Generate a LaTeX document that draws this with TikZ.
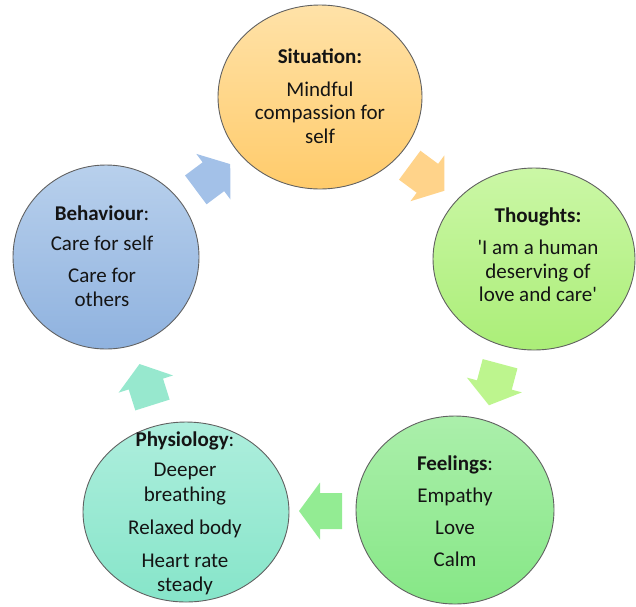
\documentclass[tikz,border=0pt]{standalone}
\usepackage{fontspec}
\setmainfont{Carlito}[Ligatures=TeXOff]
\usetikzlibrary{shapes.geometric,calc}
\definecolor{sitT}{HTML}{FFE2A8}
\definecolor{sitB}{HTML}{FFCB6B}
\definecolor{thoT}{HTML}{CBF7A6}
\definecolor{thoB}{HTML}{ABEE78}
\definecolor{feeT}{HTML}{ABEFAB}
\definecolor{feeB}{HTML}{86E786}
\definecolor{phyT}{HTML}{AEEEDD}
\definecolor{phyB}{HTML}{86E5C9}
\definecolor{behT}{HTML}{B8D0EC}
\definecolor{behB}{HTML}{8FB2DF}
\definecolor{arrBlue}{HTML}{A3C1E8}
\definecolor{arrOrange}{HTML}{FFD38A}
\definecolor{arrGreen}{HTML}{BDF58E}
\definecolor{arrLGreen}{HTML}{93EC93}
\definecolor{arrMint}{HTML}{97E8CE}
\tikzset{
  circ/.style={ellipse, draw=black!62, line width=0.9pt, inner sep=0pt},
  txt/.style={align=center, font=\fontsize{21}{23.5}\selectfont, inner sep=0pt, text=black!92},
  blockarr/.pic={\path[pic actions] (-21.5,-18) -- (0.5,-18) -- (0.5,-28.5) -- (21.5,0) -- (0.5,28.5) -- (0.5,18) -- (-21.5,18) -- cycle;}
}
\begin{document}
\begin{tikzpicture}[x=1pt,y=-1pt]
\useasboundingbox (0,0) rectangle (636,606);
% circles
\node[circ, minimum width=204pt, minimum height=184pt, top color=sitT, bottom color=sitB] (sit) at (320,97) {};
\node[circ, minimum width=202pt, minimum height=182pt, top color=thoT, bottom color=thoB] (tho) at (534,259) {};
\node[circ, minimum width=198pt, minimum height=188pt, top color=feeT, bottom color=feeB] (fee) at (455,510) {};
\node[circ, minimum width=206pt, minimum height=180pt, top color=phyT, bottom color=phyB] (phy) at (186,512) {};
\node[circ, minimum width=186pt, minimum height=184pt, top color=behT, bottom color=behB] (beh) at (106,257) {};
% texts
\node[txt] (sitx) at (320,96) {\textbf{Situation:}\\[9pt] Mindful\\ compassion for\\ self};
\node[txt] (thox) at (538,255) {\textbf{Thoughts:}\\[8.5pt] 'I am a human\\ deserving of\\ love and care'};
\node[txt] (feex) at (455,511.5) {\textbf{Feelings}:\\[8.5pt] Empathy\\[8.5pt] Love\\[8.5pt] Calm};
\node[txt] (phyx) at (185,513.5) {\textbf{Physiology}:\\[6.5pt] Deeper\\[1.5pt] breathing\\[9.5pt] Relaxed body\\[9.5pt] Heart rate\\ steady};
\node[txt] (behx) at (102,256) {\textbf{Behaviour}:\\[7pt] Care for self\\[8.5pt] Care for\\ others};
% block arrows
\pic[fill=arrBlue, rotate=36.8] at ($(beh)!0.5!(sit)$) {blockarr};
\pic[fill=arrOrange, rotate=-36.5] at ($(sit)!0.5!(tho)$) {blockarr};
\pic[fill=arrGreen, rotate=-105] at ($(tho)!0.5!(fee)$) {blockarr};
\pic[fill=arrLGreen, rotate=180] at ($(fee)!0.5!(phy)$) {blockarr};
\pic[fill=arrMint, rotate=107.5] at ($(phy)!0.5!(beh)$) {blockarr};
\end{tikzpicture}
\end{document}
